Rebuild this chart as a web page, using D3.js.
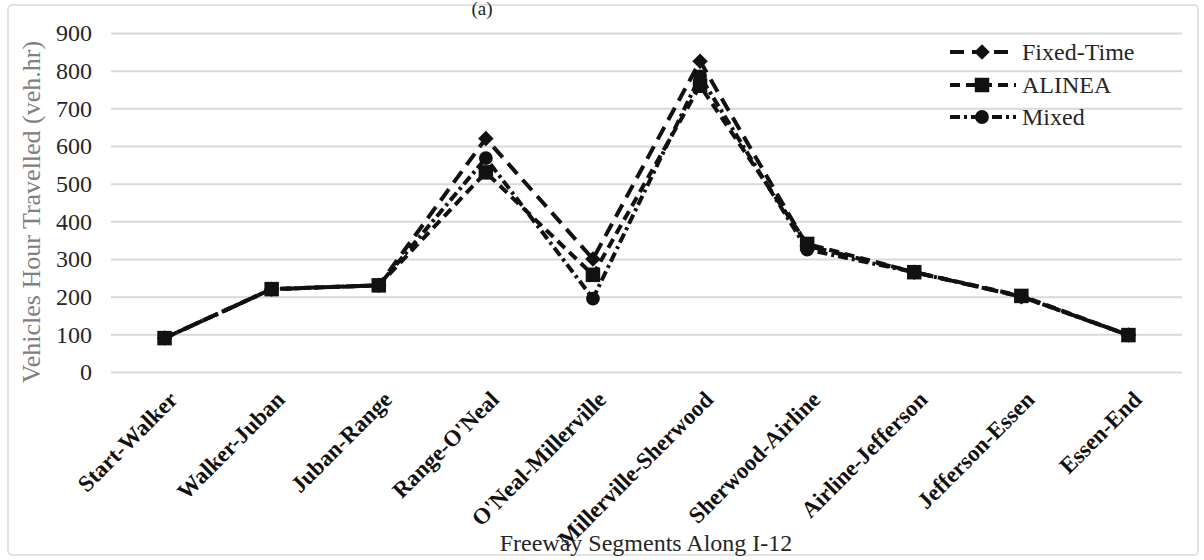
<!DOCTYPE html>
<html><head><meta charset="utf-8">
<script src="https://cdn.jsdelivr.net/npm/d3@7"></script>
<style>
html,body{margin:0;padding:0;background:#fff;}
svg{display:block;}
</style></head>
<body>
<svg id="chart" width="1204" height="560"></svg>
<script>
const categories = ["Start-Walker","Walker-Juban","Juban-Range","Range-O'Neal","O'Neal-Millerville","Millerville-Sherwood","Sherwood-Airline","Airline-Jefferson","Jefferson-Essen","Essen-End"];
const fixedTime = [90, 220, 230, 620, 300, 825, 335, 265, 200, 98];
const alinea    = [90, 220, 230, 530, 258, 760, 340, 265, 202, 98];
const mixed     = [90, 220, 230, 568, 195, 785, 325, 265, 200, 98];
const yTicks = [0,100,200,300,400,500,600,700,800,900];
const seriesNames = ["Fixed-Time","ALINEA","Mixed"];

const FONT = "Liberation Serif, Times New Roman, serif";
const svg = d3.select("#chart");
const pLeft = 111, pRight = 1182, pTop = 33, pBottom = 372;

svg.append("rect").attr("x",8).attr("y",5).attr("width",1190).attr("height",550)
  .attr("rx",4).attr("fill","#fff").attr("stroke","#d9d9d9").attr("stroke-width",1.5);

svg.append("text").attr("x",482).attr("y",15).attr("text-anchor","middle")
  .attr("font-family",FONT).attr("font-size",19).attr("fill","#222").text("(a)");

const x = d3.scalePoint().domain(categories).range([pLeft,pRight]).padding(0.5);
const y = d3.scaleLinear().domain([0,900]).range([pBottom,pTop]);

// grid
const grid = svg.append("g").attr("transform",`translate(${pLeft},0)`)
  .call(d3.axisLeft(y).tickValues(yTicks).tickSize(-(pRight-pLeft)).tickFormat(""));
grid.select(".domain").remove();
grid.selectAll("line").attr("stroke","#d9d9d9").attr("stroke-width",2);

// y labels
const ya = svg.append("g").attr("transform",`translate(${pLeft},0)`)
  .call(d3.axisLeft(y).tickValues(yTicks).tickSize(0).tickPadding(19));
ya.select(".domain").remove();
ya.attr("font-family",FONT);
ya.selectAll("text").attr("font-size",24).attr("fill","#262626");

// x labels
const xa = svg.append("g").attr("transform",`translate(0,${pBottom})`)
  .call(d3.axisBottom(x).tickSize(0).tickPadding(0));
xa.select(".domain").remove();
xa.attr("font-family",FONT);
xa.selectAll("text")
  .attr("font-size",23).attr("font-weight","bold").attr("fill","#111")
  .attr("text-anchor","end").attr("dy",null).attr("y",null)
  .attr("transform","translate(14,29) rotate(-45)");

// axis titles
svg.append("text").attr("transform","translate(40,212) rotate(-90)")
  .attr("text-anchor","middle").attr("font-family",FONT).attr("font-size",26).attr("fill","#808080")
  .text("Vehicles Hour Travelled (veh.hr)");
svg.append("text").attr("x",646).attr("y",551).attr("text-anchor","middle")
  .attr("font-family",FONT).attr("font-size",24).attr("fill","#262626").text("Freeway Segments Along I-12");

const styles = {
  "Fixed-Time": {dash:"14,8", sym:"diamond"},
  "ALINEA": {dash:"10,6", sym:"square"},
  "Mixed": {dash:"10,4,3,4", sym:"circle"}
};
const data = {"Fixed-Time":fixedTime, "ALINEA":alinea, "Mixed":mixed};
const line = d3.line().x((d,i)=>x(categories[i])).y(d=>y(d));

function marker(g, sym, cx, cy){
  if(sym==="diamond"){
    g.append("path").attr("d",d3.symbol(d3.symbolSquare,120)())
      .attr("transform",`translate(${cx},${cy}) rotate(45)`).attr("fill","#111");
  } else if(sym==="square"){
    g.append("path").attr("d",d3.symbol(d3.symbolSquare,210)())
      .attr("transform",`translate(${cx},${cy})`).attr("fill","#111");
  } else {
    g.append("path").attr("d",d3.symbol(d3.symbolCircle,150)())
      .attr("transform",`translate(${cx},${cy})`).attr("fill","#111");
  }
}

const order = ["Fixed-Time","Mixed","ALINEA"];
order.forEach(name=>{
  const g = svg.append("g");
  g.append("path").datum(data[name]).attr("d",line).attr("fill","none")
    .attr("stroke","#111").attr("stroke-width",4).attr("stroke-dasharray",styles[name].dash);
  data[name].forEach((v,i)=>marker(g, styles[name].sym, x(categories[i]), y(v)));
});

// legend
const legY = [52,85,117];
seriesNames.forEach((name,i)=>{
  const g = svg.append("g");
  g.append("line").attr("x1",950).attr("x2",1016).attr("y1",legY[i]).attr("y2",legY[i])
    .attr("stroke","#111").attr("stroke-width",4).attr("stroke-dasharray",styles[name].dash);
  marker(g, styles[name].sym, 982, legY[i]);
  g.append("text").attr("x",1022).attr("y",legY[i]+8).attr("font-family",FONT)
    .attr("font-size",24).attr("fill","#262626").text(name);
});
</script>
</body></html>
